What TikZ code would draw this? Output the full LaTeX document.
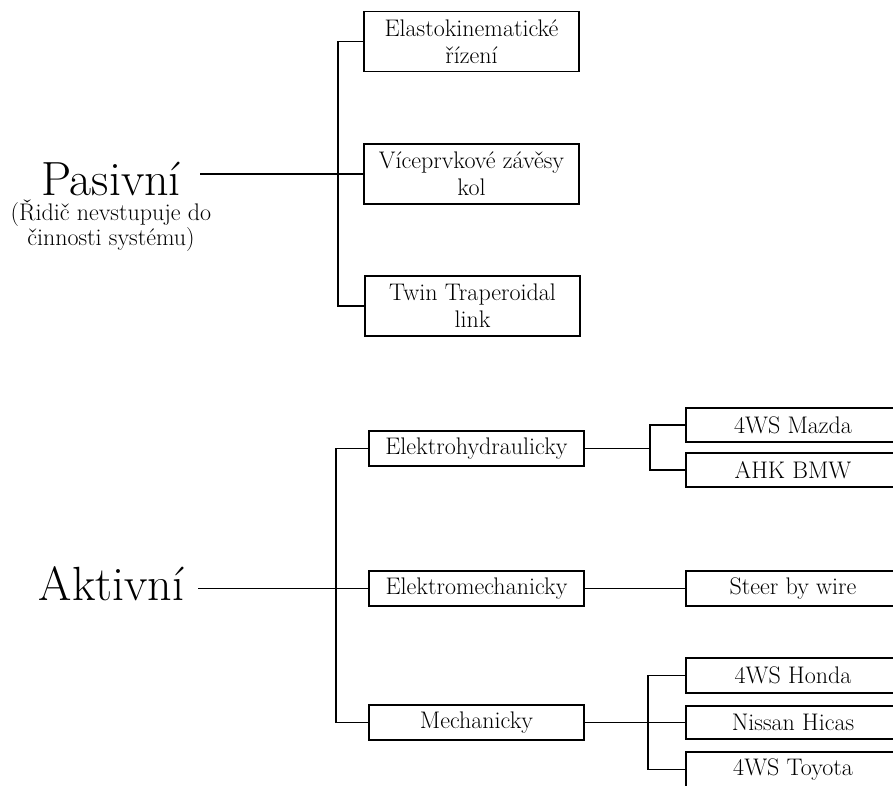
\documentclass[tikz,border=0pt]{standalone}
\usepackage{fontspec}
\usetikzlibrary{positioning}

\begin{document}
\begin{tikzpicture}[x=1pt, y=-1pt, line width=1.8pt,
  box/.style={draw, align=center, minimum width=215pt, minimum height=35pt, inner sep=1pt, font=\fontsize{24}{27}\selectfont},
  tallbox/.style={box, minimum height=60pt},
  big/.style={inner sep=0pt, font=\fontsize{48}{54}\selectfont},
  note/.style={align=center, inner sep=0pt, font=\fontsize{24}{25}\selectfont}]
\useasboundingbox (0,0) rectangle (893,785);
\clip (0,0) rectangle (893,785);

% Pasivni
\node[big, anchor=base] (pas) at (111,195) {Pasivní};
\node[note, below=3pt of pas] (pasnote) {(Řidič nevstupuje do\\činnosti systému)};

\node[tallbox] (ek) at (471.5,41.5) {Elastokinematické\\řízení};
\node[tallbox] (vz) at (471.5,174) {Víceprvkové závěsy\\kol};
\node[tallbox] (tt) at (472.5,306) {Twin Traperoidal\\link};

\coordinate (pasend) at (200,174);
\coordinate (jp) at (338,174);
\draw (pasend) -- (vz.west);
\draw (ek.west) -| (jp) |- (tt.west);

% Aktivni
\node[big, anchor=base] (akt) at (111.5,600) {Aktivní};

\node[box] (eh) at (476.5,448.5) {Elektrohydraulicky};
\node[box] (em) at (476.5,588.5) {Elektromechanicky};
\node[box] (me) at (476.5,722.5) {Mechanicky};

\coordinate (aktend) at (198,588.5);
\coordinate (ja) at (336,588.5);
\draw (aktend) -- (em.west);
\draw (eh.west) -| (ja) |- (me.west);

% systems, right column
\node[box, minimum width=214pt, minimum height=34pt] (mz) at (793,425) {4WS Mazda};
\node[box, minimum width=214pt, minimum height=34pt] (bmw) at (793,470) {AHK BMW};
\node[box, minimum width=214pt] (sw) at (793,588.5) {Steer by wire};
\node[box, minimum width=214pt] (hd) at (793,675.5) {4WS Honda};
\node[box, minimum width=214pt, minimum height=33pt] (ns) at (793,722.5) {Nissan Hicas};
\node[box, minimum width=214pt] (ty) at (793,769.5) {4WS Toyota};

\coordinate (jh) at (650,448.5);
\coordinate (jm) at (648,722.5);
\draw (eh.east) -- (jh);
\draw (mz.west) -| (jh) |- (bmw.west);
\draw (em.east) -- (sw.west);
\draw (me.east) -- (ns.west);
\draw (hd.west) -| (jm) |- (ty.west);
\end{tikzpicture}
\end{document}
